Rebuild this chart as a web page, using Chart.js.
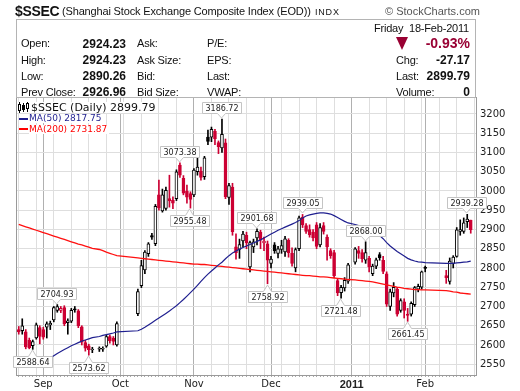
<!DOCTYPE html>
<html>
<head>
<meta charset="utf-8">
<title>$SSEC</title>
<script src="https://cdn.jsdelivr.net/npm/chart.js@4.4.1/dist/chart.umd.min.js"></script>
<style>
  body { margin: 0; background: #fff; }
  #page { position: relative; width: 520px; height: 391px; overflow: hidden; font-family: "Liberation Sans", Arial, sans-serif; color: #111; }
  #chart { position: absolute; left: 0; top: 0; }
  .t { position: absolute; white-space: nowrap; line-height: 1; }
  .lbl { font-size: 11px; letter-spacing: -0.2px; }
  .val { font-size: 12px; font-weight: bold; }
  #quote { position: absolute; left: 16px; top: 19px; width: 458px; height: 77px; border: 1px solid #b4b4b4; }
  .leg { position: absolute; white-space: nowrap; font-family: "DejaVu Sans", sans-serif; background: #fff; line-height: 1; padding-right: 2px; }
  .sw { position: absolute; left: 19px; width: 9px; height: 2px; }
</style>
</head>
<body>
<div id="page">
  <canvas id="chart" width="520" height="391"></canvas>

  <!-- title row -->
  <div class="t" style="left:15px;top:4px;font-size:14px;font-weight:bold;letter-spacing:-0.3px;">$SSEC</div>
  <div class="t" style="left:62px;top:6px;font-size:11px;letter-spacing:-0.16px;">(Shanghai Stock Exchange Composite Index (EOD))</div>
  <div class="t" style="left:315px;top:8px;font-size:9px;letter-spacing:0.8px;">INDX</div>
  <div class="t" style="left:385px;top:6px;font-size:11px;color:#555;">© StockCharts.com</div>

  <!-- quote box -->
  <div id="quote"></div>
  <div class="t lbl" style="right:51px;top:23px;">Friday&nbsp;&nbsp;18-Feb-2011</div>

  <div class="t lbl" style="left:21px;top:38px;">Open:</div>
  <div class="t lbl" style="left:21px;top:55px;">High:</div>
  <div class="t lbl" style="left:21px;top:71px;">Low:</div>
  <div class="t lbl" style="left:21px;top:87px;">Prev Close:</div>

  <div class="t val" style="right:394px;top:38px;">2924.23</div>
  <div class="t val" style="right:394px;top:54px;">2924.23</div>
  <div class="t val" style="right:394px;top:70px;">2890.26</div>
  <div class="t val" style="right:394px;top:86px;">2926.96</div>

  <div class="t lbl" style="left:137px;top:38px;">Ask:</div>
  <div class="t lbl" style="left:137px;top:55px;">Ask Size:</div>
  <div class="t lbl" style="left:137px;top:71px;">Bid:</div>
  <div class="t lbl" style="left:137px;top:87px;">Bid Size:</div>

  <div class="t lbl" style="left:207px;top:38px;">P/E:</div>
  <div class="t lbl" style="left:207px;top:55px;">EPS:</div>
  <div class="t lbl" style="left:207px;top:71px;">Last:</div>
  <div class="t lbl" style="left:207px;top:87px;">VWAP:</div>

  <div style="position:absolute;left:396px;top:37px;width:0;height:0;border-left:6.5px solid transparent;border-right:6.5px solid transparent;border-top:13px solid #990033;"></div>
  <div class="t" style="right:50px;top:36px;font-size:14px;font-weight:bold;color:#990033;">-0.93%</div>
  <div class="t lbl" style="left:396px;top:55px;">Chg:</div>
  <div class="t lbl" style="left:396px;top:71px;">Last:</div>
  <div class="t lbl" style="left:396px;top:87px;">Volume:</div>
  <div class="t val" style="right:50px;top:54px;">-27.17</div>
  <div class="t val" style="right:50px;top:70px;">2899.79</div>
  <div class="t val" style="right:50px;top:86px;">0</div>

  <!-- chart legend -->
  <svg style="position:absolute;left:18px;top:102px;background:#fff" width="13" height="11">
    <rect x="1" y="0" width="1" height="11" fill="#000"/><rect x="0.5" y="2.5" width="2" height="6" fill="#fff" stroke="#000"/>
    <rect x="5" y="1" width="1" height="9" fill="#000"/><rect x="4" y="3" width="3" height="5" fill="#000"/>
    <rect x="9" y="0" width="1" height="10" fill="#000"/><rect x="8.5" y="1.5" width="2" height="5" fill="#fff" stroke="#000"/>
  </svg>
  <div class="leg" style="left:31px;top:102px;font-size:11px;color:#111;">$SSEC (Daily) 2899.79</div>
  <div class="sw" style="top:118px;background:#1f1f8f;"></div>
  <div class="leg" style="left:29px;top:114px;font-size:9px;color:#1f1f8f;">MA(50) 2817.75</div>
  <div class="sw" style="top:128px;background:#ff0000;"></div>
  <div class="leg" style="left:29px;top:125px;font-size:9px;color:#ff0000;">MA(200) 2731.87</div>
</div>

<script>
// weekdays 23-Aug-2010 .. 21-Feb-2011, holidays left as null
const dates = [];
for (let d = new Date(Date.UTC(2010, 7, 23)); d <= new Date(Date.UTC(2011, 1, 21)); d.setUTCDate(d.getUTCDate() + 1)) {
  const wd = d.getUTCDay();
  if (wd === 0 || wd === 6) continue;
  dates.push(d.toISOString().slice(0, 10));
}

const open = [
  2640,2637,2634,2612,2598,2618,2645,
  2640,2646,2652,2665,2690,2690,2697,2658,2662,2694,2689,2647,2606,2598,2587,null,2589,2589,2597,2622,2618,2600,
  null,null,null,null,null,2681,2754,2795,2837,2884,2863,2990,2948,2955,2980,2976,2980,3067,3033,3000,2993,
  2990,3050,3052,3037,3140,3140,3155,3126,3112,3125,2983,3010,2855,2848,2870,2885,2803,2855,2878,2893,2865,2863,
  2812,2860,2838,2848,2842,2872,2838,2800,2850,2932,2910,2900,2893,2912,2860,2910,2880,2845,2840,2767,2736,2748,2766,
  null,2815,2845,2840,2820,2825,2785,2805,2835,2820,2785,2700,2735,2745,2690,2712,2680,2680,2705,2745,2750,
  2800,null,null,null,null,null,2780,2765,2812,2830,2895,2895,2920,2924.23,
  null
];
const high = [
  2648,2668,2640,2618,2613,2657,2650,
  2646,2660,2662,2700,2704.93,2700,2702,2668,2695,2700,2692,2650,2612,2602,2594,null,2595,2595,2625,2626,2622,2660,
  null,null,null,null,null,2745,2820,2845,2866,2890,2965,3028,3005,3010,3041,2985,3055,3073.38,3040,3015,2998,
  3058,3088,3062,3090,3158,3166,3160,3130,3186.72,3135,3020,3020,2889,2875,2895,2893,2870,2875,2901.68,2898,2880,2870,
  2830,2866,2856,2872,2882,2876,2852,2852,2935,2939.05,2915,2912,2900,2918,2915,2918,2886,2850,2846,2772,2755,2775,2812,
  null,2853,2856,2848,2868,2830,2810,2826,2840,2830,2790,2745,2762,2750,2720,2720,2695,2712,2752,2758,2792,
  2805,null,null,null,null,null,2794,2826,2832,2905,2925,2930,2939.28,2924.23,
  null
];
const low = [
  2628,2628,2590,2590,2588.64,2615,2603,
  2615,2618,2640,2660,2685,2684,2650,2628,2658,2685,2645,2600,2584,2573.62,2580,null,2583,2583,2594,2605,2600,2597,
  null,null,null,null,null,2676,2749,2785,2830,2874,2858,2950,2945,2950,2958,2954,2975,3035,2990,2968,2955.48,
  2985,3041,3028,3030,3120,3128,3120,3097,3100,2980,2965,2885,2823,2825,2855,2850,2790,2840,2860,2850,2845,2758.92,
  2800,2838,2826,2838,2830,2828,2805,2790,2845,2905,2890,2880,2870,2850,2855,2888,2820,2825,2775,2728,2721.48,2740,2760,
  null,2810,2825,2815,2812,2790,2780,2798,2820,2785,2700,2690,2725,2675,2685,2670,2661.45,2675,2700,2738,2745,
  2790,null,null,null,null,null,2760,2758,2800,2828,2885,2890,2905,2890.26,
  null
];
const close = [
  2634,2650,2595,2593,2609,2652,2622,
  2620,2655,2656,2697,2700,2695,2655,2663,2690,2691,2650,2607,2592,2588,2589,null,2589,2589,2622,2611,2609,2655.66,
  null,null,null,null,null,2738.74,2806,2841,2863,2880,2960,2956,2990,3002,2974,2968,3050,3041,2994,2984,2978,
  3054,3062,3035,3086,3129,3160,3136,3115,3147,2985,3014,2894,2840,2861,2888,2865,2866,2868,2895,2872,2870,2820,
  2823,2845,2850,2858,2876,2840,2812,2848,2930,2912,2895,2886,2878,2856,2905,2895,2855,2832,2780,2735,2750,2768,2808,
  null,2850,2838,2824,2840,2803,2805,2821,2827,2791,2706,2738,2750,2680,2715,2690,2677,2708,2749,2752,2790,
  2799,null,null,null,null,null,2775,2818,2828,2899,2900,2917,2926.96,2899.79,
  null
];

const ma50 = [
  null,null,null,null,null,null,null,
  null,2560,2566,2572,2578,2583,2588,2593,2598,2602,2606,2610,2613,2616,2619,null,2622,2625,2627,2629,2631,2634,
  null,null,null,null,null,2637,2641,2646,2652,2658,2664,2670,2676,2682,2688,2695,2702,2710,2718,2727,2736,
  2745,2755,2765,2775,2784,2792,2800,2808,2815,2824,2832,2839,2844,2849,2853,2857,2861,2865,2869,2873,2878,2883,
  2888,2893,2898,2902,2906,2910,2914,2918,2923,2930,2935,2938,2940,2942,2943,2943,2942,2940,2936,2931,2926,2921,2917,
  null,2913,2910,2907,2904,2900,2896,2891,2884,2876,2866,2857,2850,2843,2837,2831,2825,2821,2818,2816,2815,
  2814,null,null,null,null,null,2812,2812,2812,2813,2814,2815,2816,2817.75,
  null
];
const ma200 = [
  2913,2910,2907,2904,2901,2898,2895,
  2892,2889,2886,2883,2880,2877,2874,2871,2868,2865,2862,2860,2857,2854,2851,null,2848,2845,2841,2838,2835,2832,
  null,null,null,null,null,2826,2825,2824,2823,2822,2821,2820,2819,2818,2817,2816,2815,2814,2813,2812,2811,
  2810,2810,2809,2809,2808,2807,2806,2805,2804,2803,2802,2801,2800,2799,2798,2797,2796,2795,2794,2793,2792,2791,
  2790,2789,2788,2787,2786,2785,2784,2783,2782,2781,2780,2780,2779,2778,2777,2777,2776,2775,2774,2773,2772,2771,2770,
  null,2769,2768,2767,2766,2765,2764,2762,2760,2758,2756,2754,2752,2750,2749,2747,2746,2745,2744,2744,2743,
  2743,null,null,null,null,null,2741,2740,2738,2737,2735,2734,2733,2731.87,
  null
];

const yTicks = [2550,2600,2650,2700,2750,2800,2850,2900,2950,3000,3050,3100,3150,3200];
const monthNames = ['Jan','Feb','Mar','Apr','May','Jun','Jul','Aug','Sep','Oct','Nov','Dec'];

// callout labels on swing highs / lows
const labelIdx  = [4, 11, 20, 46, 49, 58, 68, 71, 81, 92, 99, 111, 128];
const labelSide = ['low','high','low','high','low','high','high','low','high','low','high','low','high'];

// 🔹 candle colours: red if close < previous close, filled if close < open
const RED = '#cc0033', BLACK = '#000000';
let prev = null;
const candleColor = [], candleFill = [];
close.forEach((c, i) => {
  if (c === null) { candleColor.push(BLACK); candleFill.push('#fff'); return; }
  const ref = prev === null ? open[i] : prev;
  const col = c < ref ? RED : BLACK;
  candleColor.push(col);
  candleFill.push(c < open[i] ? col : '#ffffff');
  prev = c;
});
const bodies = open.map((o, i) => o === null ? null : [o, close[i]]);
const wicks = low.map((l, i) => l === null ? null : [l, high[i]]);

// month starts and mondays for the grid
const monthStart = [], monday = [];
dates.forEach((d, i) => {
  const dt = new Date(d + 'T00:00:00Z');
  monday.push(dt.getUTCDay() === 1);
  if (i > 0 && dates[i - 1].slice(5, 7) !== d.slice(5, 7)) monthStart.push(i);
});
function monthLabel(i) {
  if (!monthStart.includes(i)) return '';
  const m = +dates[i].slice(5, 7) - 1;
  return m === 0 ? dates[i].slice(0, 4) : monthNames[m];
}

const frame = {
  id: 'frame',
  beforeDatasetsDraw(chart) {
    const { ctx, chartArea: a } = chart;
    ctx.save();
    ctx.strokeStyle = '#9a9a9a';
    ctx.lineWidth = 1;
    ctx.strokeRect(a.left - 0.5, a.top - 0.5, a.right - a.left + 1, a.bottom - a.top + 1);
    ctx.restore();
  },
  afterDatasetsDraw(chart) {
    const { ctx, scales: { x, y } } = chart;
    ctx.save();
    ctx.font = '8px "DejaVu Sans"';
    ctx.textAlign = 'center';
    ctx.textBaseline = 'middle';
    labelIdx.forEach((i, k) => {
      const up = labelSide[k] === 'high';
      const v = up ? high[i] : low[i];
      const txt = v.toFixed(2);
      const px = Math.round(x.getPixelForValue(i)) - 0.5;
      const py = Math.round(y.getPixelForValue(v));
      const w = Math.ceil(ctx.measureText(txt).width) + 5;
      const h = 11;
      const left = Math.round(px - w / 2) + 0.5;
      const tip = up ? py - 1 : py + 1;
      const edge = up ? tip - 5 + 0.5 : tip + 6 + 0.5;
      ctx.beginPath();
      if (up) {
        const top = edge - h;
        ctx.moveTo(left, top); ctx.lineTo(left + w, top); ctx.lineTo(left + w, edge);
        ctx.lineTo(px + 4, edge); ctx.lineTo(px, tip); ctx.lineTo(px - 4, edge); ctx.lineTo(left, edge);
      } else {
        ctx.moveTo(left, edge); ctx.lineTo(px - 4, edge); ctx.lineTo(px, tip); ctx.lineTo(px + 4, edge);
        ctx.lineTo(left + w, edge); ctx.lineTo(left + w, edge + h); ctx.lineTo(left, edge + h);
      }
      ctx.closePath();
      ctx.fillStyle = '#ffffff';
      ctx.fill();
      ctx.strokeStyle = '#c4c4c4';
      ctx.lineWidth = 1;
      ctx.stroke();
      ctx.fillStyle = '#222';
      const cy = up ? edge - h / 2 : edge + h / 2;
      ctx.fillText(txt, left + w / 2, cy + 0.5);
    });
    ctx.restore();
  }
};

new Chart(document.getElementById('chart'), {
  data: {
    labels: dates,
    datasets: [
      { type: 'line', data: ma50, borderColor: '#1f1f8f', borderWidth: 1.2, pointRadius: 0, spanGaps: true, tension: 0, order: 0 },
      { type: 'line', data: ma200, borderColor: '#ff1010', borderWidth: 1.3, pointRadius: 0, spanGaps: true, tension: 0, order: 0 },
      { type: 'bar', data: bodies, backgroundColor: candleFill, borderColor: candleColor, borderWidth: 1,
        borderSkipped: false, barThickness: 3, minBarLength: 1, grouped: false, order: 1 },
      { type: 'bar', data: wicks, backgroundColor: candleColor, borderWidth: 0,
        barThickness: 1, grouped: false, order: 2 }
    ]
  },
  options: {
    responsive: false,
    animation: false,
    layout: { padding: { top: 98, left: 17, right: 0, bottom: 0 } },
    plugins: { legend: { display: false }, tooltip: { enabled: false } },
    scales: {
      x: {
        type: 'category',
        offset: true,
        border: { display: false },
        grid: {
          offset: false,
          drawTicks: true,
          tickLength: 2,
          tickColor: '#aaaaaa',
          color: c => monthStart.includes(c.index) ? '#b0b0b0' : (monday[c.index] ? '#dedede' : 'rgba(0,0,0,0)')
        },
        ticks: {
          autoSkip: false,
          maxRotation: 0,
          minRotation: 0,
          padding: 1,
          color: '#222',
          callback: (v, i) => monthLabel(i),
          font: c => (c.tick && c.tick.label === '2011')
            ? { family: 'Liberation Sans', size: 11, weight: 'bold' }
            : { family: 'DejaVu Sans', size: 10 }
        },
        afterFit: s => { s.height = 16; }
      },
      y: {
        position: 'right',
        min: 2522,
        max: 3241.5,
        border: { display: false },
        grid: { color: '#dedede', drawTicks: false },
        afterBuildTicks: s => { s.ticks = yTicks.map(v => ({ value: v })); },
        ticks: { padding: 4, color: '#222', font: { family: 'DejaVu Sans', size: 10 }, callback: v => String(v) },
        afterFit: s => { s.width = 44; }
      }
    }
  },
  plugins: [frame]
});
</script>
</body>
</html>
